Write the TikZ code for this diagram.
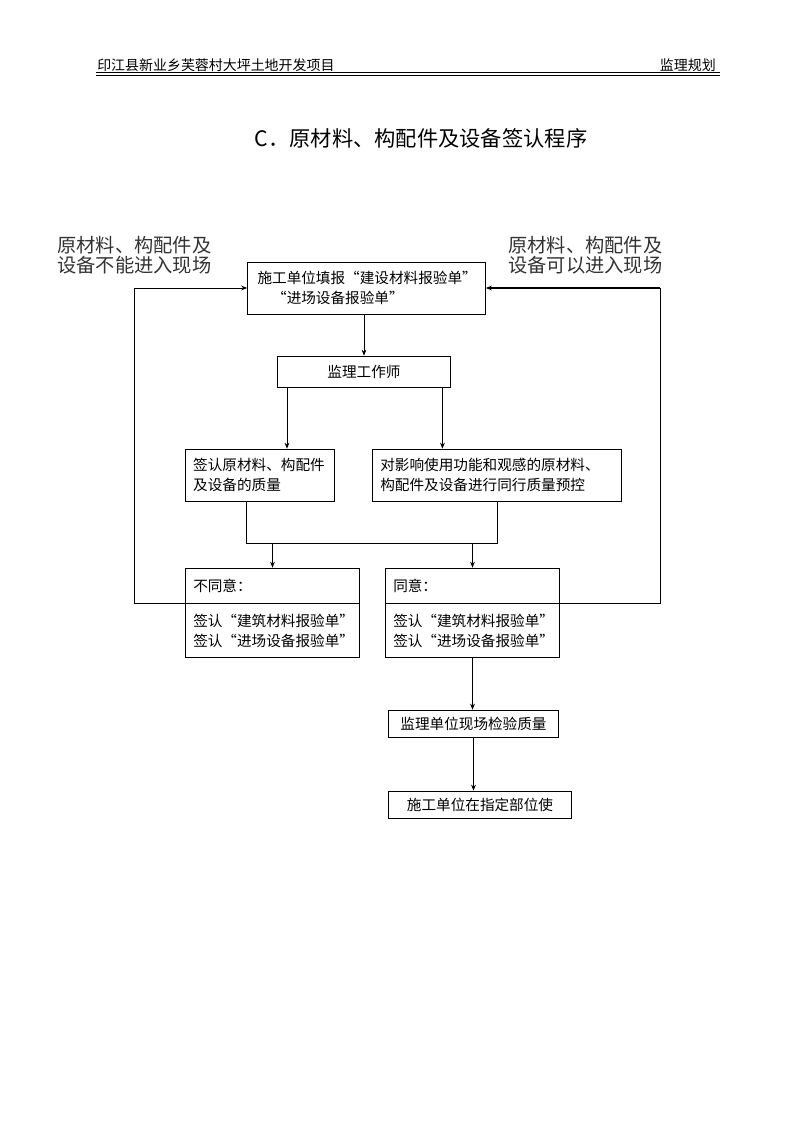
\documentclass[tikz,border=0pt]{standalone}
\usepackage{fontspec}
\setmainfont{Noto Sans CJK SC}
\usetikzlibrary{arrows.meta,calc,positioning}

\begin{document}
\begin{tikzpicture}[x=0.02645cm,y=-0.02645cm,>={Stealth[length=4.5pt,width=3.6pt]},
  box/.style={draw,line width=0.6pt,inner sep=0pt,font=\fontsize{11pt}{15pt}\selectfont},
  lbox/.style={box,align=left,inner xsep=6pt},
  cbox/.style={box,align=center},
  side/.style={anchor=west,align=left,inner sep=0pt,text=black!80,font=\fontsize{14.5pt}{15pt}\selectfont},
  head/.style={inner sep=0pt,font=\fontsize{10.5pt}{12pt}\selectfont},
  link/.style={line width=0.6pt}]
\useasboundingbox (0,0) rectangle (794,1123);
\node[head,anchor=base west] (hd) at (97,70) {印江县新业乡芙蓉村大坪土地开发项目};
\node[head,anchor=base east] (hr) at (716,70) {监理规划};
\draw[line width=0.5pt] (96,72.5) -- (720,72.5);
\draw[line width=1.2pt] (96,75.5) -- (720,75.5);
\node[font=\fontsize{16pt}{18pt}\selectfont] (ttl) at (421,138) {C．原材料、构配件及设备签认程序};
\node[side] (lno) at (57,255) {原材料、构配件及\\设备不能进入现场};
\node[side] (lok) at (508,255) {原材料、构配件及\\设备可以进入现场};

\node[box,align=left,inner xsep=7.5pt,text width=164pt,minimum height=39pt] (fill) at (366.5,288) {施工单位填报“建设材料报验单”\\\hspace{11pt}“进场设备报验单”};
\node[cbox,minimum width=130.5pt,minimum height=23.25pt] (sup) at (364,371.5) {监理工作师};
\node[lbox,text width=100.5pt,minimum height=39pt] (chk) at (260,475) {签认原材料、构配件\\及设备的质量};
\node[lbox,text width=175.5pt,minimum height=39pt] (ctl) at (497,475) {对影响使用功能和观感的原材料、\\构配件及设备进行同行质量预控};
\node[lbox,text width=119.25pt,minimum height=26.25pt] (noA) at (272.5,585.5) {不同意：};
\node[lbox,text width=119.25pt,minimum height=40.5pt,below=0pt of noA] (noB) {签认“建筑材料报验单”\\签认“进场设备报验单”};
\node[lbox,text width=119.25pt,minimum height=26.25pt] (okA) at (472.5,585.5) {同意：};
\node[lbox,text width=119.25pt,minimum height=40.5pt,below=0pt of okA] (okB) {签认“建筑材料报验单”\\签认“进场设备报验单”};
\node[cbox,minimum width=128.25pt,minimum height=20.25pt] (test) at (473.5,723.5) {监理单位现场检验质量};
\node[cbox,minimum width=138pt,minimum height=20.25pt] (use) at (480,804.5) {施工单位在指定部位使};

\draw[link,->] (fill.south -| sup) -- (sup.north);
\coordinate (s1) at ($(sup.south west)!0.058!(sup.south east)$);
\coordinate (s2) at ($(sup.south west)!0.95!(sup.south east)$);
\draw[link,->] (s1) -- (s1 |- chk.north);
\draw[link,->] (s2) -- (s2 |- ctl.north);
\coordinate (c1) at ($(chk.south west)!0.41!(chk.south east)$);
\coordinate (jn) at (0,543);
\draw[link] (c1) -- (c1 |- jn) -- (ctl.south |- jn) -- (ctl.south);
\draw[link,->] (noA.north |- jn) -- (noA.north);
\draw[link,->] (okA.north |- jn) -- (okA.north);
\draw[link,->] (noA.south west) -- ++(-50,0) |- (fill.west);
\draw[link] (okA.south east) -- ++(100,0) coordinate (rc) -- (rc |- fill.east);
\draw[->,line width=1.2pt] (rc |- fill.east) -- (fill.east);
\draw[link,->] (okB.south) -- (okB.south |- test.north);
\draw[link,->] (test.south) -- (test.south |- use.north);
\end{tikzpicture}
\end{document}
